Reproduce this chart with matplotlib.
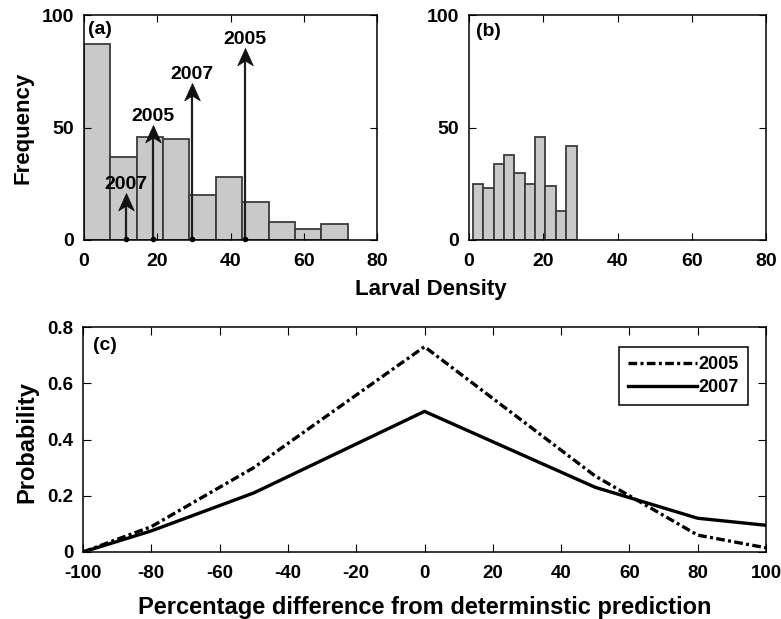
import numpy as np
import matplotlib
matplotlib.use("Agg")
import matplotlib.pyplot as plt
from matplotlib.path import Path

# ─── Data ────────────────────────────────────────────────────────────────────
# (a) histogram: 10 bins over 0-72
a_edges = np.linspace(0, 72, 11)
a_counts = [87, 37, 46, 45, 20, 28, 17, 8, 5, 7]

# arrows in (a): position, tip height, label
arrow_x = [11.5, 18.8, 29.6, 44.0]
arrow_top = [20.7, 51.1, 69.6, 85.2]
arrow_lab = ["2007", "2005", "2007", "2005"]

# (b) histogram: 10 bins over 1-29
b_edges = np.linspace(1, 29, 11)
b_counts = [25, 23, 34, 38, 30, 25, 46, 24, 13, 42]

# (c) probability vs percentage difference
c_x = [-100, -80, -50, 0, 50, 80, 100]
c_2005 = [0.0, 0.09, 0.30, 0.73, 0.27, 0.06, 0.015]
c_2007 = [0.0, 0.075, 0.21, 0.50, 0.23, 0.12, 0.095]

BAR_FC = "#c9c9c9"
BAR_EC = "#3c3c3c"

# notched arrowhead marker, tip at the marker origin
HEAD = Path([(0, 0), (-0.45, -1), (0, -0.72), (0.45, -1), (0, 0)],
            [Path.MOVETO, Path.LINETO, Path.LINETO, Path.LINETO, Path.CLOSEPOLY])

plt.rcParams.update({
    "font.family": ["Liberation Sans", "DejaVu Sans"],
    "font.weight": "bold",
    "axes.labelweight": "bold",
    "axes.unicode_minus": False,
    "xtick.direction": "in",
    "ytick.direction": "in",
    "xtick.top": True,
    "ytick.right": True,
    "axes.linewidth": 1.1,
})

W, H = 781, 619
fig = plt.figure(figsize=(W / 100, H / 100), dpi=100)


def rect(l, r, t, b):
    return [l / W, 1 - b / H, (r - l) / W, (b - t) / H]


def hist_panel(ax, edges, counts, label, lx, ly):
    ax.bar(edges[:-1], counts, width=np.diff(edges), align="edge",
           color=BAR_FC, edgecolor=BAR_EC, linewidth=1.3)
    ax.set_xlim(0, 80)
    ax.set_ylim(0, 100)
    ax.set_xticks([0, 20, 40, 60, 80])
    ax.set_yticks([0, 50, 100])
    ax.tick_params(axis="x", labelsize=14, length=5, pad=9.5)
    ax.tick_params(axis="y", labelsize=14, length=5, pad=7)
    ax.text(lx, ly, label, transform=ax.transAxes, ha="left", va="top",
            fontsize=14, fontweight="bold")


# ─── (a) ─────────────────────────────────────────────────────────────────────
ax_a = fig.add_axes(rect(84, 377, 15, 240))
hist_panel(ax_a, a_edges, a_counts, "(a)", 0.012, 0.975)
ax_a.vlines(arrow_x, 0, np.array(arrow_top) - 3, color="#1e1e1e", lw=1.6)
ax_a.plot(arrow_x, arrow_top, ls="none", marker=HEAD, markersize=25,
          color="#111111", mew=0.5)
ax_a.plot(arrow_x, [0.6] * len(arrow_x), "o", color="black", markersize=3,
          clip_on=False)
for x, top, lab in zip(arrow_x, arrow_top, arrow_lab):
    ax_a.text(x, top + 1.8, lab, ha="center", va="baseline", fontsize=14,
              fontweight="bold")

# ─── (b) ─────────────────────────────────────────────────────────────────────
ax_b = fig.add_axes(rect(469, 766, 15, 240))
hist_panel(ax_b, b_edges, b_counts, "(b)", 0.022, 0.965)

fig.text(23 / W, 1 - 127.5 / H, "Frequency", rotation=90, ha="center",
         va="center", fontsize=16, fontweight="bold")
fig.text(431 / W, 1 - 295 / H, "Larval Density", ha="center",
         va="baseline", fontsize=16, fontweight="bold")

# ─── (c) ─────────────────────────────────────────────────────────────────────
ax_c = fig.add_axes(rect(83, 766, 327, 552))
ax_c.plot(c_x, c_2005, color="black", lw=2.4,
          linestyle=(0, (2.6, 1.0, 0.9, 1.0)), label="2005")
ax_c.plot(c_x, c_2007, color="black", lw=2.4, label="2007")
ax_c.set_xlim(-100, 100)
ax_c.set_ylim(0, 0.8)
ax_c.set_xticks(np.arange(-100, 101, 20))
ax_c.set_yticks([0, 0.2, 0.4, 0.6, 0.8])
ax_c.set_yticklabels(["0", "0.2", "0.4", "0.6", "0.8"])
ax_c.tick_params(axis="x", labelsize=13.5, length=6, pad=9.5)
ax_c.tick_params(axis="y", labelsize=13.5, length=6, pad=7)
ax_c.text(0.015, 0.955, "(c)", transform=ax_c.transAxes, ha="left", va="top",
          fontsize=14, fontweight="bold")
leg = ax_c.legend(loc="upper right", bbox_to_anchor=(0.9736, 0.911),
                  borderaxespad=0, prop={"weight": "bold", "size": 13},
                  handlelength=3.8, handletextpad=0.1, borderpad=0.5,
                  labelspacing=0.35, fancybox=False, edgecolor="black",
                  framealpha=1)
leg.get_frame().set_linewidth(1.1)

fig.text(27 / W, 1 - 442 / H, "Probability", rotation=90, ha="center",
         va="center", fontsize=17, fontweight="bold")
fig.text(425 / W, 1 - 614 / H,
         "Percentage difference from determinstic prediction",
         ha="center", va="baseline", fontsize=17, fontweight="bold")

plt.savefig("out.png", dpi=100)
